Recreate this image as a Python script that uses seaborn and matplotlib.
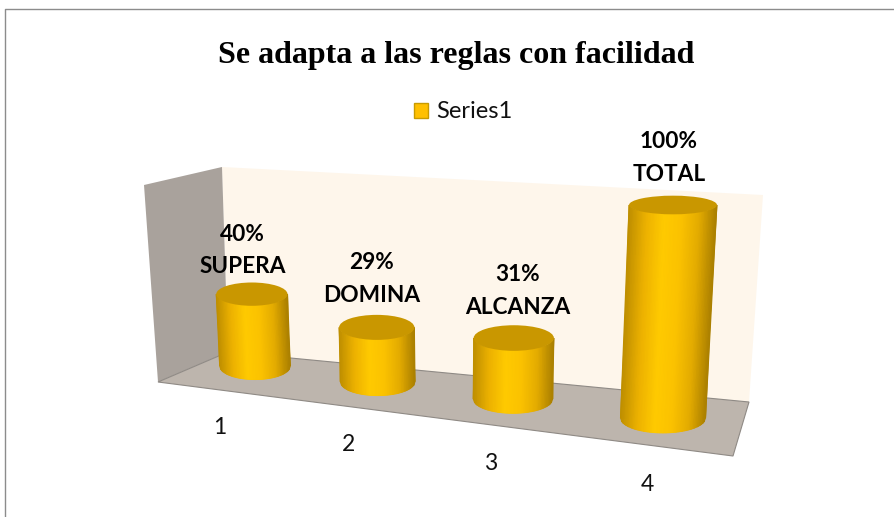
import numpy as np
import matplotlib
matplotlib.use("Agg")
import matplotlib.pyplot as plt
import matplotlib.transforms as mtransforms
from matplotlib.colors import LinearSegmentedColormap
from matplotlib.patches import Polygon, Ellipse
import seaborn as sns

# chart values
categories = ["1", "2", "3", "4"]
values = [40, 29, 31, 100]
percent_labels = ["40%", "29%", "31%", "100%"]
level_names = ["SUPERA", "DOMINA", "ALCANZA", "TOTAL"]
title_text = "Se adapta a las reglas con facilidad"
series_name = "Series1"

W, H = 894, 517
BAR_WIDTH = 0.58
LABEL_FONT = "Lato"

sns.set_theme(style="white")
plt.rcParams["font.family"] = [LABEL_FONT, "DejaVu Sans"]


def fit_homography(src, dst):
    # plain 4 point fit, the chart has a tilted 3d look
    rows, rhs = [], []
    for (x, y), (u, v) in zip(src, dst):
        rows.append([x, y, 1, 0, 0, 0, -u * x, -u * y])
        rows.append([0, 0, 0, x, y, 1, -v * x, -v * y])
        rhs += [u, v]
    sol = np.linalg.solve(np.array(rows, float), np.array(rhs, float))
    return np.append(sol, 1).reshape(3, 3)


class Perspective(mtransforms.Transform):
    input_dims = 2
    output_dims = 2
    is_separable = False
    has_inverse = False

    def __init__(self, matrix):
        super().__init__()
        self.matrix = matrix

    def transform_non_affine(self, values):
        pts = np.asarray(values, float)
        full = np.column_stack([pts, np.ones(len(pts))]) @ self.matrix.T
        return full[:, :2] / full[:, 2:]


# category/value plane -> image pixels, anchors are the plot corners
plane_src = [(0, 0), (3, 0), (3, 100), (0, 100)]
plane_dst = [(255, 366), (663, 418), (673, 205), (247, 182)]
persp = Perspective(fit_homography(plane_src, plane_dst))

fig = plt.figure(figsize=(W / 100, H / 100), dpi=100, facecolor="white")
px = mtransforms.Affine2D().scale(1, -1).translate(0, H)

# three layers: walls, seaborn bars, cylinder shading and text
bg = fig.add_axes([0, 0, 1, 1], zorder=0)
ax = fig.add_axes([0, 0, 1, 1], zorder=1)
fg = fig.add_axes([0, 0, 1, 1], zorder=2)
for a in (bg, ax, fg):
    a.patch.set_alpha(0)

sns.barplot(x=categories, y=values, color="#FFC000", saturation=1, width=BAR_WIDTH,
            label=series_name, legend=False, ax=ax)
bars = list(ax.patches)
for b in bars:
    b.set_transform(persp + px)
for a in (bg, ax, fg):
    a.axis("off")

# chart frame
bg.plot([5, 5, W], [H, 9, 9], color="#8c8c8c", lw=1, transform=px)

# walls and floor
wall_back = [(222, 167), (763, 195), (749, 402), (228, 352)]
wall_side = [(144, 185), (222, 167), (228, 352), (158, 382)]
floor = [(158, 382), (228, 352), (749, 402), (733, 456)]
bg.add_patch(Polygon(wall_back, fc="#FEF6EB", ec="none", transform=px))
bg.add_patch(Polygon(wall_side, fc="#A9A29C", ec="none", transform=px))
bg.add_patch(Polygon(floor, fc="#BDB5AD", ec="#8f8a85", lw=0.8, transform=px))

shade = LinearSegmentedColormap.from_list(
    "cyl", ["#BF8F00", "#EDB200", "#FFCA00", "#FBC200", "#E4AC00", "#AB8000"])


def ellipse_height(y_px):
    # flatter further up the picture
    return 4 + 0.026 * y_px


def damped(half_width):
    # the original widens less than the plane does
    return 0.6 * half_width + 15


# cylinders drawn on top of the seaborn bars, ends stay level like the original
for b in bars:
    xc, w, h = b.get_x() + b.get_width() / 2, b.get_width(), b.get_height()
    ends = persp.transform(np.array([[xc - w / 2, 0], [xc + w / 2, 0], [xc - w / 2, h], [xc + w / 2, h]]))
    mid_base = persp.transform(np.array([[xc, 0]]))[0]
    mid_top = persp.transform(np.array([[xc, h]]))[0]
    hw_base = damped((ends[1, 0] - ends[0, 0]) / 2)
    hw_top = damped((ends[3, 0] - ends[2, 0]) / 2)
    base_hh = ellipse_height(mid_base[1])
    top_hh = ellipse_height(mid_top[1])
    u = np.linspace(-1, 1, 60)
    bulge = np.sqrt(1 - u ** 2)
    xs = np.vstack([mid_top[0] + u * hw_top, mid_base[0] + u * hw_base])
    ys = np.vstack([mid_top[1] + bulge * top_hh, mid_base[1] + bulge * base_hh])
    fg.pcolormesh(xs, ys, np.vstack([u, u]), cmap=shade, shading="gouraud",
                  transform=px, zorder=4)
    fg.add_patch(Ellipse(mid_top, 2 * hw_top, 2 * top_hh, fc="#C99700",
                         ec="none", transform=px, zorder=5))
    # keep the flat bar inside the cylinder so its tilted corners do not show
    b.set_x(xc - 0.35 * w)
    b.set_width(0.7 * w)

# value labels above the cylinders
label_dx = [-9, -5, 4, -4]
label_dy = [5, 1, 3, -1]
for i, (pct, name) in enumerate(zip(percent_labels, level_names)):
    tx, ty = persp.transform(np.array([[i, values[i]]]))[0]
    fg.text(tx + label_dx[i], ty - ellipse_height(ty) - 10 + label_dy[i], f"{pct}\n{name}",
            transform=px, ha="center", va="bottom", fontsize=16.3, fontweight="bold",
            color="black", linespacing=1.7, zorder=6)

# category labels under the floor
for i, cat in enumerate(categories):
    tx, ty = persp.transform(np.array([[i, 0]]))[0]
    fg.text(tx - 35 + 6.3 * i, ty + 61 + 1.7 * i, cat, transform=px, ha="center", va="center",
            fontsize=16.5, color="#111111", zorder=6)

fg.text(456, 55, title_text, transform=px, ha="center", va="center", fontsize=23,
        fontweight="bold", family="Liberation Serif", color="black")

handles, names = ax.get_legend_handles_labels()
leg = fg.legend(handles[:1], names[:1], loc="center", bbox_to_anchor=(463 / W, 1 - 112 / H),
                frameon=False, fontsize=17, handlelength=0.62, handleheight=0.62,
                handletextpad=0.32, labelcolor="#111111")
leg.legend_handles[0].set_edgecolor("#C89B00")

fig.savefig("out.png", dpi=100)
